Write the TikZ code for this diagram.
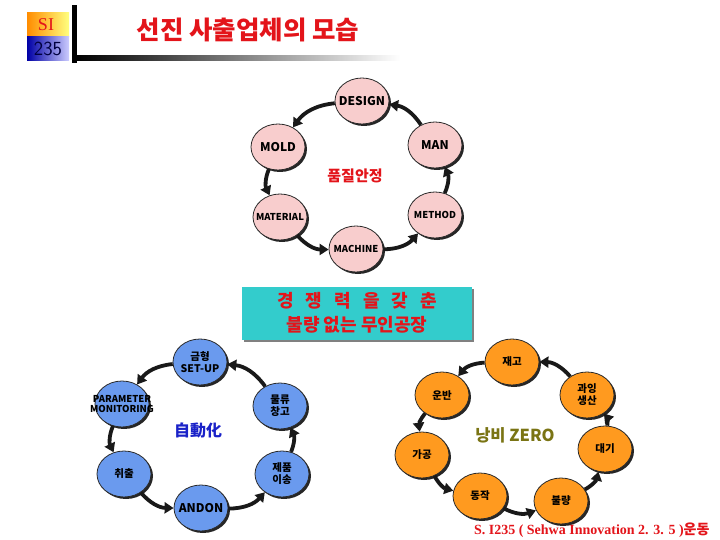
\documentclass[tikz,border=0pt]{standalone}
\usepackage{fontspec}
\setmainfont{Liberation Serif}
\newfontfamily\kr{Noto Sans CJK KR}
\usepackage{tikz}
\usetikzlibrary{arrows.meta,positioning,shapes.geometric,shadows}
\definecolor{mycred}{HTML}{E3141A}
\definecolor{mycpink}{HTML}{F8CDCD}
\definecolor{mycblue}{HTML}{6A9AEE}
\definecolor{mycorange}{HTML}{FF9A1F}
\definecolor{myccyan}{HTML}{33CCCC}
\definecolor{mycolive}{HTML}{7A7414}
\definecolor{mycnavy}{HTML}{1A22C8}
\definecolor{mycdark}{HTML}{2A2A2A}

\begin{document}
\begin{tikzpicture}[
  x=1pt,y=-1pt,
  bub/.style={ellipse,draw=mycdark,line width=0.8pt,minimum width=54pt,minimum height=46pt,inner sep=0pt,
    drop shadow={shadow xshift=2pt,shadow yshift=-2pt,fill=black!85,opacity=1}},
  pinkb/.style={bub,fill=mycpink},
  blueb/.style={bub,fill=mycblue},
  orangeb/.style={bub,fill=mycorange},
  txt/.style={align=center,inner sep=0pt,font=\kr\bfseries\fontsize{10.5}{12}\selectfont},
  big/.style={txt,font=\kr\bfseries\fontsize{12}{13}\selectfont},
  small/.style={txt,font=\kr\bfseries\fontsize{9.5}{10.5}\selectfont},
  cyc/.style={-{Triangle[length=9pt,width=11pt]},line width=3.8pt,black!90,bend right=24}
]
\useasboundingbox (0,0) rectangle (720,540);

% header
\shade[left color=orange!90!yellow,right color=yellow!50] (27,13) rectangle (69,37);
\shade[left color=blue!65!black,right color=blue!20] (27,37) rectangle (69,61);
\node[text=mycred,font=\fontsize{18}{19}\selectfont] (si) at (46,25) {SI};
\node[text=blue!25!black,font=\sffamily\fontsize{20}{21}\selectfont] (num) at (48,49) {235};
\fill[black] (72,5) rectangle (77,63);
\shade[left color=black,right color=white] (77,56) rectangle (400,61);
\node[text=mycred,font=\kr\bfseries\fontsize{25.5}{27}\selectfont] (title) at (248,30) {선진 사출업체의 모습};

% quality cycle
\node[pinkb,label={[big]center:DESIGN}] (design) at (362,101) {};
\node[pinkb,label={[big]center:MOLD}] (mold) at (278,147) {};
\node[pinkb,label={[big]center:MAN}] (man) at (435,145) {};
\node[pinkb,label={[small]center:MATERIAL}] (material) at (280,217) {};
\node[pinkb,label={[small]center:METHOD}] (method) at (435,215) {};
\node[pinkb,label={[small]center:MACHINE}] (machine) at (356,249) {};
\node[text=mycred,font=\kr\bfseries\fontsize{15}{16}\selectfont] (quality) at (355,176) {품질안정};

\draw[cyc] (man) to (design);
\draw[cyc] (design) to (mold);
\draw[cyc] (mold) to (material);
\draw[cyc] (material) to (machine);
\draw[cyc] (machine) to (method);
\draw[cyc] (method) to (man);

% goal box
\node[fill=myccyan,minimum width=230pt,minimum height=53pt,text=mycred,align=center,
  font=\kr\bfseries\fontsize{18}{24}\selectfont,
  drop shadow={shadow xshift=2pt,shadow yshift=-2pt,fill=black!50,opacity=1}] (goal) at (357,313)
  {{\spaceskip=12pt\relax 경 쟁 력 을 갖 춘}\\불량 없는 무인공장};

% automation cycle
\node[blueb,label={[txt]center:금형\\SET-UP}] (setup) at (200,362) {};
\node[blueb,label={[small]center:PARAMETER\\MONITORING}] (param) at (122,404) {};
\node[blueb,label={[txt]center:취출}] (takeout) at (124,474) {};
\node[blueb,label={[big]center:ANDON}] (andon) at (201,508) {};
\node[blueb,label={[txt]center:제품\\이송}] (transfer) at (282,474) {};
\node[blueb,label={[txt]center:물류\\창고}] (store) at (280,406) {};
\node[text=mycnavy,font=\kr\bfseries\fontsize{16}{17}\selectfont] (auto) at (198,430) {自動化};

\draw[cyc] (store) to (setup);
\draw[cyc] (setup) to (param);
\draw[cyc] (param) to (takeout);
\draw[cyc] (takeout) to (andon);
\draw[cyc] (andon) to (transfer);
\draw[cyc] (transfer) to (store);

% waste cycle
\node[orangeb,label={[txt]center:재고}] (stock) at (512,362) {};
\node[orangeb,label={[txt]center:과잉\\생산}] (overprod) at (587,395) {};
\node[orangeb,label={[txt]center:운반}] (carry) at (442,395) {};
\node[orangeb,label={[txt]center:가공}] (process) at (422,455) {};
\node[orangeb,label={[txt]center:대기}] (wait) at (605,449) {};
\node[orangeb,label={[txt]center:동작}] (motion) at (480,496) {};
\node[orangeb,label={[txt]center:불량}] (defect) at (561,501) {};
\node[text=mycolive,font=\kr\bfseries\fontsize{16.5}{17}\selectfont] (zero) at (515,435) {낭비 ZERO};

\draw[cyc] (overprod) to (stock);
\draw[cyc] (stock) to (carry);
\draw[cyc] (carry) to (process);
\draw[cyc] (process) to (motion);
\draw[cyc] (motion) to (defect);
\draw[cyc] (defect) to (wait);
\draw[cyc] (wait) to (overprod);

% footer
\node[anchor=east,text=mycred,font=\bfseries\fontsize{14}{15}\selectfont] (note) at (713,530)
  {S. I235 ( Sehwa Innovation 2. 3. 5 ){\kr 운동}};
\end{tikzpicture}
\end{document}
